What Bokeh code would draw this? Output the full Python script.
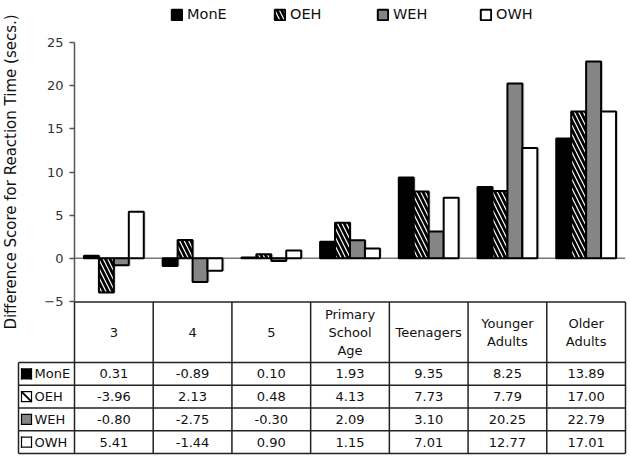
import math
from bokeh.plotting import figure
from bokeh.models import (FactorRange, Range1d, Legend, LegendItem, Span,
                          SingleIntervalTicker, ColumnDataSource)
from bokeh.transform import dodge
from bokeh.core.properties import value
from bokeh.embed import file_html
from bokeh.resources import INLINE

# ---------------- data ----------------
categories = ["3", "4", "5", "Primary School Age", "Teenagers",
              "Younger Adults", "Older Adults"]
header_labels = ["3", "4", "5", "Primary\nSchool\nAge", "Teenagers",
                 "Younger\nAdults", "Older\nAdults"]
series_names = ["MonE", "OEH", "WEH", "OWH"]
mone = [0.31, -0.89, 0.10, 1.93, 9.35, 8.25, 13.89]
oeh = [-3.96, 2.13, 0.48, 4.13, 7.73, 7.79, 17.00]
weh = [-0.80, -2.75, -0.30, 2.09, 3.10, 20.25, 22.79]
owh = [5.41, -1.44, 0.90, 1.15, 7.01, 12.77, 17.01]
series_values = [mone, oeh, weh, owh]
y_tick_interval = 5
y_min, y_max = -5, 25
y_label = "Difference Score for Reaction Time (secs.)"

# ---------------- layout / styles ----------------
FONT = "DejaVu Sans"
fills = ["#000000", "#ffffff", "#858585", "#ffffff"]
hatches = [None, "\\", None, None]
offsets = [-0.285, -0.095, 0.095, 0.285]
BAR_W = 0.19

W, H = 630, 457
LEFT, RIGHT = 74, 5           # frame x: 74 .. 625
COL_W = (W - LEFT - RIGHT) / len(categories)
CHART_TOP_PX = 42             # px from frame top to y_max
CHART_H_PX = 259              # px between y_max and y_min
TABLE_H_PX = H - CHART_TOP_PX - CHART_H_PX
PPU = CHART_H_PX / (y_max - y_min)
y_end = y_max + CHART_TOP_PX / PPU
y_start = y_min - TABLE_H_PX / PPU

p = figure(width=W, height=H,
           x_range=FactorRange(factors=categories, range_padding=0),
           y_range=Range1d(y_start, y_end), x_axis_location=None,
           output_backend="svg", toolbar_location=None,
           min_border_left=LEFT, min_border_right=RIGHT, min_border_top=0,
           min_border_bottom=0)
p.outline_line_color = None
p.grid.visible = False
# table coordinates: px below the chart's y_min line (downwards positive)
p.extra_y_ranges = {"table": Range1d(start=TABLE_H_PX, end=-(CHART_TOP_PX + CHART_H_PX))}

zero = Span(location=0, dimension="width", line_color="#777777", line_width=1.5,
            level="underlay")
p.add_layout(zero)

src = ColumnDataSource(dict(cat=categories, MonE=mone, OEH=oeh, WEH=weh, OWH=owh))
for name, off in zip(series_names, offsets):
    p.vbar(x=dodge("cat", off + 0.025, range=p.x_range), top=name, bottom=0,
           width=BAR_W, source=src, fill_color="#aaaaaa", fill_alpha=0.45,
           line_color=None)
renderers = []
for name, fc, hp, off in zip(series_names, fills, hatches, offsets):
    kw = {}
    if hp:
        kw = dict(hatch_pattern=hp, hatch_color="black", hatch_scale=9, hatch_weight=2.8)
    r = p.vbar(x=dodge("cat", off, range=p.x_range), top=name, bottom=0,
               width=BAR_W, source=src, fill_color=fc, line_color="black",
               line_width=2, **kw)
    renderers.append(r)

ax = p.yaxis[0]
ax.ticker = SingleIntervalTicker(interval=y_tick_interval)
ax.bounds = (y_min, y_max)
ax.minor_tick_line_color = None
ax.major_tick_in = 0
ax.major_tick_out = 5
ax.major_tick_line_color = "#555555"
ax.major_tick_line_width = 1.5
ax.axis_line_color = "#555555"
ax.axis_line_width = 1.5
ax.major_label_text_font = FONT
ax.major_label_text_font_size = "13px"
ax.major_label_text_color = "#333333"
ax.major_label_standoff = 6

# y-axis title, centred on the axis extent (-5..25)
p.text(x=[(11 - LEFT) / COL_W], y=[(y_min + y_max) / 2], text=[y_label],
       angle=math.pi / 2, text_align="center", text_baseline="middle",
       text_font=value(FONT), text_font_size="15px", text_color="#111111",
       level="overlay")

legend = Legend(items=[LegendItem(label=n, renderers=[r]) for n, r in zip(series_names, renderers)],
                orientation="horizontal", location=(170 - LEFT, H - 7 - 15),
                glyph_width=13, glyph_height=13, label_standoff=4,
                label_width=76, spacing=10, padding=0, margin=0,
                border_line_color=None, background_fill_alpha=0,
                label_text_font=FONT, label_text_font_size="14.5px",
                label_text_color="#111111")
p.add_layout(legend, "center")

# ---------------- table ----------------
n = len(categories)
lab_left = -(LEFT - 18) / COL_W
HEADER_H = 61
ROW_H = 22.75
top_y = 0.5
row_lines = [HEADER_H + ROW_H * i for i in range(5)]
bottom_y = row_lines[-1]
LC = "#222222"
LW = 1.5
tk = dict(y_range_name="table", level="overlay")

p.segment(x0=[0], y0=[top_y], x1=[n], y1=[top_y], line_color=LC, line_width=LW, **tk)
p.segment(x0=[lab_left] * 5, y0=row_lines, x1=[n] * 5, y1=row_lines,
          line_color=LC, line_width=LW, **tk)
p.segment(x0=list(range(n + 1)), y0=[top_y] * (n + 1), x1=list(range(n + 1)),
          y1=[bottom_y] * (n + 1), line_color=LC, line_width=LW, **tk)
p.segment(x0=[lab_left], y0=[row_lines[0]], x1=[lab_left], y1=[bottom_y],
          line_color=LC, line_width=LW, **tk)

p.text(x=[i + 0.5 for i in range(n)], y=[(top_y + row_lines[0]) / 2] * n,
       text=header_labels, text_align="center", text_baseline="middle",
       text_font=value(FONT), text_font_size="13px", text_color="#111111",
       text_line_height=1.2, **tk)

SQ = 10                                   # legend square in the table, px
sq_x0 = lab_left + 3 / COL_W
sq_x1 = sq_x0 + SQ / COL_W
for j, (name, vals) in enumerate(zip(series_names, series_values)):
    yc = row_lines[j] + ROW_H / 2
    p.text(x=[i + 0.5 for i in range(n)], y=[yc] * n,
           text=[f"{v:.2f}" for v in vals], text_align="center",
           text_baseline="middle", text_font=value(FONT),
           text_font_size="13px", text_color="#111111", **tk)
    # square key drawn with segments (fill + outline)
    yt, yb = yc - SQ / 2, yc + SQ / 2
    p.segment(x0=[sq_x0], y0=[yc], x1=[sq_x1], y1=[yc], line_width=SQ,
              line_color=fills[j], line_cap="butt", **tk)
    p.segment(x0=[sq_x0, sq_x1, sq_x1, sq_x0], y0=[yt, yt, yb, yb],
              x1=[sq_x1, sq_x1, sq_x0, sq_x0], y1=[yt, yb, yb, yt],
              line_color="black", line_width=1.2, line_cap="square", **tk)
    if hatches[j]:
        p.segment(x0=[sq_x0], y0=[yt], x1=[sq_x1], y1=[yb], line_color="black",
                  line_width=2, **tk)
    p.text(x=[lab_left + 16 / COL_W], y=[yc], text=[name], text_align="left",
           text_baseline="middle", text_font=value(FONT),
           text_font_size="13px", text_color="#111111", **tk)

open("out.html", "w").write(file_html(p, INLINE))
